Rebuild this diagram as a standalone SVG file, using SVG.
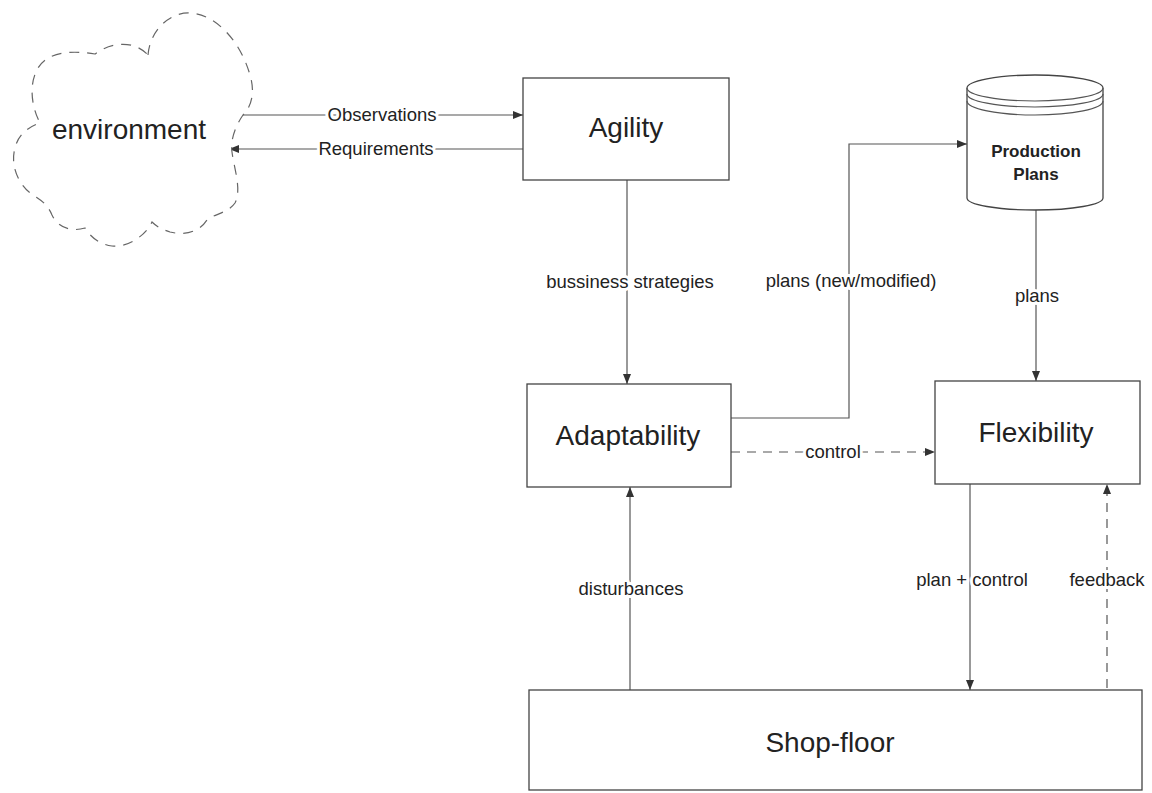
<svg xmlns="http://www.w3.org/2000/svg" width="1152" height="793" viewBox="0 0 1152 793">
<style>
  .box { fill: #ffffff; stroke: #444; stroke-width: 1.3; }
  .line { fill: none; stroke: #555; stroke-width: 1.2; }
  .dash { fill: none; stroke: #555; stroke-width: 1.2; stroke-dasharray: 9 7; }
  .cloud { fill: #ffffff; stroke: #666; stroke-width: 1.2; stroke-dasharray: 10 8; }
  .big { font-family: "Liberation Sans", Arial, sans-serif; font-size: 28px; fill: #222; text-anchor: middle; }
  .lbl { font-family: "Liberation Sans", Arial, sans-serif; font-size: 18.5px; fill: #222; text-anchor: middle; stroke: #ffffff; stroke-width: 6px; paint-order: stroke; stroke-linejoin: round; }
  .db { font-family: "Liberation Sans", Arial, sans-serif; font-size: 17px; font-weight: bold; fill: #222; text-anchor: middle; }
</style>
<defs>
  <marker id="arr" viewBox="0 0 10 10" refX="10" refY="5" markerWidth="10" markerHeight="10" markerUnits="userSpaceOnUse" orient="auto">
    <path d="M0,1 L10,5 L0,9 Z" fill="#333"/>
  </marker>
</defs>
<rect width="1152" height="793" fill="#ffffff"/>

<g id="connectors">
  <line class="line" x1="242" y1="115" x2="523" y2="115" marker-end="url(#arr)"/>
  <line class="line" x1="523" y1="149" x2="229" y2="149" marker-end="url(#arr)"/>
  <line class="line" x1="627" y1="180" x2="627" y2="384" marker-end="url(#arr)"/>
  <polyline class="line" points="731,418 849,418 849,144 967,144" marker-end="url(#arr)"/>
  <line class="dash" x1="731" y1="452" x2="935" y2="452" marker-end="url(#arr)"/>
  <line class="line" x1="1036" y1="210" x2="1036" y2="381" marker-end="url(#arr)"/>
  <line class="line" x1="970" y1="484" x2="970" y2="690" marker-end="url(#arr)"/>
  <line class="dash" x1="1107" y1="688" x2="1107" y2="484" marker-end="url(#arr)"/>
  <line class="line" x1="630" y1="692" x2="630" y2="487" marker-end="url(#arr)"/>
  <text class="lbl" x="382" y="121">Observations</text>
  <text class="lbl" x="376" y="155">Requirements</text>
  <text class="lbl" x="630" y="288">bussiness strategies</text>
  <text class="lbl" x="851" y="287">plans (new/modified)</text>
  <text class="lbl" x="1037" y="302">plans</text>
  <text class="lbl" x="833" y="458">control</text>
  <text class="lbl" x="631" y="595">disturbances</text>
  <text class="lbl" x="972" y="586">plan + control</text>
  <text class="lbl" x="1107" y="586">feedback</text>
</g>

<g id="environment">
  <path class="cloud" d="M148,55 C150,30 170,12 190,13 C215,14 240,40 250,75 C256,95 250,108 243,115 C236,125 230,140 232,152 C234,168 242,190 235,203 C228,213 214,214 207,220 C200,231 186,236 170,232 C161,229 156,226 152,222 C146,235 128,248 112,246 C98,244 90,236 85,228 C72,232 58,228 52,215 C47,203 40,200 33,195 C18,185 10,165 15,148 C18,135 28,127 40,123 C32,108 28,85 38,68 C48,52 70,50 95,54 C108,44 132,38 148,55 Z"/>
  <text class="big" x="129" y="139">environment</text>
</g>

<g id="agility">
  <rect class="box" x="523" y="78" width="206" height="102"/>
  <text class="big" x="626" y="137">Agility</text>
</g>

<g id="production-plans">
  <path class="box" d="M967,88 A68,13 0 0 1 1103,88 L1103,198 A68,12 0 0 1 967,198 Z"/>
  <path class="line" d="M967,88 A68,13 0 0 0 1103,88"/>
  <path class="line" d="M967,94 A68,13 0 0 0 1103,94"/>
  <path class="line" d="M967,101 A68,14 0 0 0 1103,101"/>
  <text class="db" x="1036" y="157">Production</text>
  <text class="db" x="1036" y="180">Plans</text>
</g>

<g id="adaptability">
  <rect class="box" x="527" y="384" width="204" height="103"/>
  <text class="big" x="628" y="445">Adaptability</text>
</g>

<g id="flexibility">
  <rect class="box" x="935" y="381" width="205" height="103"/>
  <text class="big" x="1036" y="442">Flexibility</text>
</g>

<g id="shop-floor">
  <rect class="box" x="529" y="690" width="613" height="100"/>
  <text class="big" x="830" y="752">Shop-floor</text>
</g>
</svg>
